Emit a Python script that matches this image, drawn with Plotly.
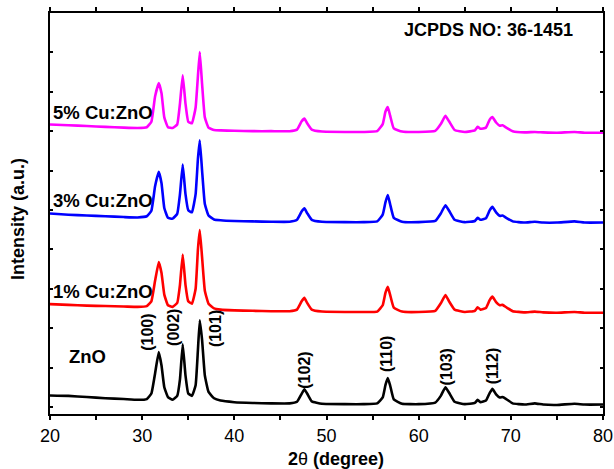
import plotly.graph_objects as go

two_theta = [20, 22, 24, 26, 28, 29.5, 30.5, 31.0, 31.4, 31.8, 32.1, 32.4, 32.8, 33.3, 33.8, 34.1, 34.4,
             34.7, 35.0, 35.4, 35.8, 36.05, 36.25, 36.5, 36.8, 37.2, 37.8, 38.5, 40, 42, 44, 46, 46.8,
             47.3, 47.6, 47.9, 48.4, 49.5, 52, 54, 55.5, 56.1, 56.4, 56.65, 56.9, 57.3, 58.2, 60, 61.8,
             62.4, 62.9, 63.3, 63.9, 65, 66.1, 66.4, 66.7, 67.3, 67.7, 68.0, 68.4, 68.8, 69.1, 69.5,
             70.2, 71.5, 72.6, 73.5, 75, 76.9, 78, 80]

zno = [0.29, 0.28, 0.25, 0.22, 0.20, 0.18, 0.20, 0.34, 0.85, 1.39, 1.05, 0.50, 0.25, 0.18, 0.28, 0.70, 1.59,
       0.80, 0.34, 0.28, 0.55, 1.45, 2.20, 1.70, 0.80, 0.38, 0.22, 0.16, 0.12, 0.10, 0.09, 0.09, 0.13,
       0.33, 0.45, 0.34, 0.14, 0.08, 0.07, 0.07, 0.09, 0.24, 0.56, 0.73, 0.55, 0.19, 0.08, 0.07, 0.11,
       0.28, 0.50, 0.36, 0.13, 0.07, 0.10, 0.18, 0.12, 0.16, 0.35, 0.46, 0.32, 0.24, 0.25, 0.20,
       0.09, 0.06, 0.09, 0.06, 0.05, 0.08, 0.06, 0.06]

cu1 = [2.61, 2.59, 2.57, 2.56, 2.55, 2.54, 2.56, 2.68, 3.20, 3.68, 3.40, 2.85, 2.58, 2.54, 2.64, 3.10, 3.87,
       3.10, 2.68, 2.62, 3.00, 4.00, 4.49, 3.80, 2.95, 2.62, 2.50, 2.47, 2.45, 2.44, 2.43, 2.43, 2.47,
       2.68, 2.77, 2.64, 2.47, 2.42, 2.41, 2.41, 2.42, 2.58, 2.90, 3.05, 2.85, 2.52, 2.42, 2.41, 2.44,
       2.63, 2.84, 2.68, 2.47, 2.41, 2.44, 2.53, 2.47, 2.51, 2.71, 2.80, 2.66, 2.58, 2.59, 2.53,
       2.43, 2.40, 2.42, 2.40, 2.39, 2.41, 2.39, 2.39]

cu3 = [4.91, 4.88, 4.86, 4.84, 4.82, 4.81, 4.84, 4.98, 5.60, 5.97, 5.68, 5.05, 4.80, 4.78, 4.90, 5.40, 6.15,
       5.40, 4.99, 4.94, 5.40, 6.30, 6.77, 6.00, 5.15, 4.86, 4.76, 4.74, 4.72, 4.71, 4.70, 4.70, 4.75,
       4.96, 5.04, 4.92, 4.75, 4.70, 4.69, 4.69, 4.71, 4.88, 5.20, 5.38, 5.15, 4.80, 4.70, 4.69, 4.72,
       4.91, 5.12, 4.98, 4.75, 4.69, 4.72, 4.80, 4.75, 4.79, 4.99, 5.08, 4.94, 4.85, 4.86, 4.80,
       4.71, 4.68, 4.70, 4.68, 4.68, 4.71, 4.68, 4.68]

cu5 = [7.17, 7.15, 7.13, 7.11, 7.09, 7.08, 7.10, 7.24, 7.88, 8.22, 7.96, 7.35, 7.10, 7.08, 7.17, 7.70, 8.42,
       7.70, 7.24, 7.20, 7.60, 8.40, 9.01, 8.20, 7.35, 7.09, 7.03, 7.02, 7.01, 7.00, 7.00, 7.00, 7.04,
       7.25, 7.32, 7.20, 7.04, 6.99, 6.98, 6.98, 7.00, 7.18, 7.50, 7.61, 7.40, 7.07, 6.99, 6.98, 7.01,
       7.18, 7.39, 7.25, 7.03, 6.98, 7.02, 7.11, 7.06, 7.09, 7.29, 7.36, 7.22, 7.14, 7.15, 7.09,
       7.00, 6.97, 6.98, 6.97, 6.96, 6.98, 6.96, 6.96]

series_names = ["ZnO", "1% Cu:ZnO", "3% Cu:ZnO", "5% Cu:ZnO"]
series_values = [zno, cu1, cu3, cu5]
series_colors = ["#000000", "#FF0000", "#0000FF", "#FF00FF"]

# label positions (2theta, intensity)
label_x = [21.84, 20.1, 20.1, 20.1]
label_y = [1.29, 2.92, 5.23, 7.48]

hkl_labels = ["(100)", "(002)", "(101)", "(102)", "(110)", "(103)", "(112)"]
hkl_x = [30.5, 33.45, 37.9, 47.65, 56.45, 63.0, 68.1]
hkl_y = [1.90, 2.03, 2.00, 0.94, 1.34, 1.01, 1.04]

x_ticks = [20, 30, 40, 50, 60, 70, 80]
y_ticks = [0, 1, 2, 3, 4, 5, 6, 7, 8, 9]

FONT = "Liberation Sans, Arial, sans-serif"

fig = go.Figure()
for name, vals, col in zip(series_names, series_values, series_colors):
    fig.add_trace(go.Scatter(x=two_theta, y=vals, mode="lines", name=name,
                             line=dict(color=col, width=2.6, shape="spline", smoothing=0.35),
                             showlegend=False, hoverinfo="skip"))

annotations = []
for name, lx, ly in zip(series_names, label_x, label_y):
    annotations.append(dict(x=lx, y=ly, xref="x", yref="y", text="<b>%s</b>" % name,
                            showarrow=False, xanchor="left", yanchor="middle",
                            font=dict(family=FONT, size=18.5, color="black")))
for t, hx, hy in zip(hkl_labels, hkl_x, hkl_y):
    annotations.append(dict(x=hx, y=hy, xref="x", yref="y", text="<b>%s</b>" % t,
                            showarrow=False, textangle=-90, xanchor="center", yanchor="middle",
                            font=dict(family=FONT, size=16, color="black")))
annotations.append(dict(x=0.949, y=9.56, xref="paper", yref="y", text="<b>JCPDS NO: 36-1451</b>",
                        showarrow=False, xanchor="right", yanchor="middle",
                        font=dict(family=FONT, size=18, color="black")))
annotations.append(dict(x=-0.058, y=0.486, xref="paper", yref="paper", text="<b>Intensity (a.u.)</b>",
                        showarrow=False, textangle=-90, xanchor="center", yanchor="middle",
                        font=dict(family=FONT, size=18, color="black")))
annotations.append(dict(x=0.517, y=-0.112, xref="paper", yref="paper",
                        text="<b>2</b>θ<b> (degree)</b>",
                        showarrow=False, xanchor="center", yanchor="middle",
                        font=dict(family=FONT, size=18, color="black")))

fig.update_layout(
    width=614, height=469, autosize=False,
    margin=dict(l=50, r=11, t=12.5, b=55, autoexpand=False),
    paper_bgcolor="white", plot_bgcolor="white",
    annotations=annotations,
    xaxis=dict(range=[20, 80], tickvals=x_ticks, ticktext=[str(v) for v in x_ticks],
               ticks="outside", ticklen=4, tickwidth=1.5, tickcolor="black",
               minor=dict(dtick=5, ticks="outside", ticklen=4, tickwidth=1.5, tickcolor="black"),
               showline=True, linecolor="black", linewidth=2, mirror="ticks",
               showgrid=False, zeroline=False, automargin=False,
               tickfont=dict(family=FONT, size=18, color="black"), tickangle=0),
    yaxis=dict(range=[-0.18, 10.0], tickvals=y_ticks, showticklabels=False,
               ticks="inside", ticklen=3, tickwidth=1.5, tickcolor="black",
               showline=True, linecolor="black", linewidth=2, mirror="ticks",
               showgrid=False, zeroline=False, automargin=False),
)
fig.update_xaxes(tickprefix="<b>", ticksuffix="</b>")

fig.write_html("out.html",
               config={"displayModeBar": False, "responsive": False},
               post_script="document.body.style.margin='0px';")
